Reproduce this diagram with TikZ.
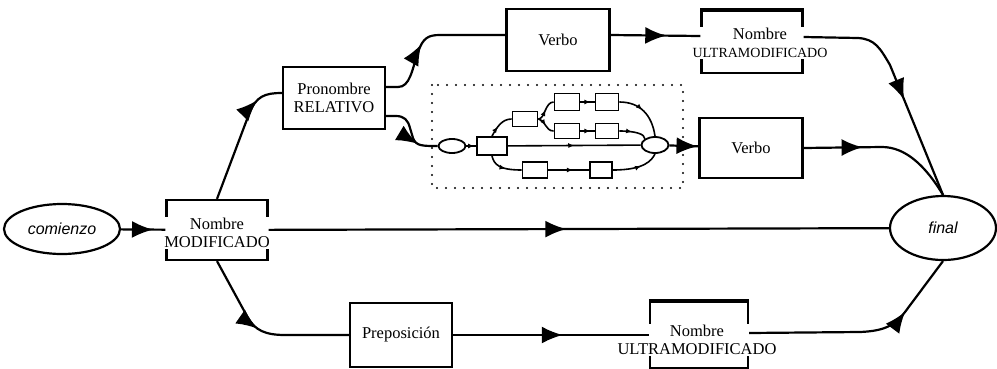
\documentclass[tikz,border=0pt]{standalone}
\usepackage{fontspec}
\setmainfont{Liberation Serif}
\setsansfont{Liberation Sans}
\usetikzlibrary{arrows.meta,decorations.markings,shapes.geometric}

\tikzset{
  caja/.style={draw, line width=2.2pt, inner sep=2pt, align=center, font=\fontsize{16.5}{18}\selectfont},
  rotulo/.style={fill=white, inner sep=1pt, align=center, font=\fontsize{16.5}{18}\selectfont},
  ovalo/.style={draw, ellipse, line width=2.2pt, inner sep=0pt, font=\sffamily\itshape\fontsize{16}{18}\selectfont},
  cajita/.style={draw, line width=1.8pt, inner sep=0pt},
  ovalito/.style={draw, ellipse, line width=1.8pt, inner sep=0pt},
  puntos/.style={line width=2.4pt, line cap=round, dash pattern=on 0pt off 9pt},
  flecha/.style={postaction={decorate}, decoration={markings,
      mark=at position #1 with {\arrow{Latex[length=21pt,width=17pt]}}}},
  flechita/.style={line width=1.6pt, postaction={decorate}, decoration={markings,
      mark=at position #1 with {\arrow{Latex[length=6pt,width=5pt]}}}}
}

\begin{document}
\begin{tikzpicture}[x=1pt,y=-1pt,line width=2.2pt]
  \useasboundingbox (0,0) rectangle (997,368);
  % nodos principales
  \node[ovalo, minimum width=116pt, minimum height=50pt] (comienzo) at (62,229) {comienzo};
  \node[caja, minimum width=101pt, minimum height=60pt] (modif) at (217,230) {};
  \node[rotulo] (modiftxt) at (217,233) {Nombre\\MODIFICADO};
  \node[caja, minimum width=102pt, minimum height=62pt] (pron) at (334,98) {Pronombre\\RELATIVO};
  \node[caja, minimum width=103pt, minimum height=62pt] (verbo1) at (558,40) {Verbo};
  \node[caja, minimum width=101pt, minimum height=62pt] (ultra1) at (752,42) {};
  \draw[line width=4pt] (ultra1.north west) -- (ultra1.north east);
  \node[rotulo] (ultra1txt) at (760,43) {Nombre\\{\fontsize{14}{18}\selectfont ULTRAMODIFICADO}};
  \node[caja, minimum width=103pt, minimum height=60pt] (verbo2) at (751,148) {Verbo};
  \node[caja, minimum width=102pt, minimum height=64pt] (prep) at (401,335) {Preposición};
  \node[caja, minimum width=98pt, minimum height=66pt] (ultra2) at (699,335) {};
  \draw[line width=4pt] (ultra2.north west) -- (ultra2.north east);
  \node[rotulo] (ultra2txt) at (697,340) {Nombre\\ULTRAMODIFICADO};
  \node[ovalo, minimum width=106pt, minimum height=64pt] (final) at (943,228) {final};

  % red interna
  \draw[puntos] (432,85) rectangle (683,188);
  \node[ovalito, minimum width=27pt, minimum height=14pt] (ini) at (452,146) {};
  \node[cajita, minimum width=30pt, minimum height=18pt] (c1) at (492,146) {};
  \node[cajita, minimum width=25pt, minimum height=15pt] (cA) at (525,119) {};
  \node[cajita, minimum width=25pt, minimum height=17pt] (cB) at (567,102) {};
  \node[cajita, minimum width=23pt, minimum height=17pt] (cC) at (607,102) {};
  \node[cajita, minimum width=25pt, minimum height=15pt] (cD) at (567,131) {};
  \node[cajita, minimum width=23pt, minimum height=15pt] (cE) at (607,131) {};
  \node[cajita, minimum width=25pt, minimum height=16pt] (cF) at (535,170) {};
  \node[cajita, minimum width=22pt, minimum height=16pt] (cG) at (601,170) {};
  \node[ovalito, minimum width=27pt, minimum height=16pt] (fin) at (655,145) {};

  \draw[flechita=0.8] (ini) -- (c1);
  \draw[flechita=0.4] (c1.north) .. controls (497,127) and (502,119) .. (cA.west);
  \draw[flechita=0.5] (cA.east) .. controls (545,119) and (545,102) .. (cB.west);
  \draw[flechita=0.5] (cA.east) .. controls (545,119) and (545,131) .. (cD.west);
  \draw[flechita=0.7] (cB) -- (cC);
  \draw[flechita=0.7] (cD) -- (cE);
  \draw[flechita=0.45] (cC.east) .. controls (640,102) and (652,115) .. (fin.north);
  \draw[flechita=0.45] (cE.east) .. controls (635,131) and (645,134) .. (fin.north west);
  \draw[flechita=0.5] (c1) -- (fin);
  \draw[flechita=0.55] (c1.south) .. controls (494,165) and (500,170) .. (cF.west);
  \draw[flechita=0.6] (cF) -- (cG);
  \draw[flechita=0.6] (cG.east) .. controls (645,170) and (652,160) .. (fin.south);

  % conexiones
  \draw[flecha=0.72] (comienzo) -- (modif);
  \draw[flecha=0.48] (modif) -- (final);
  \draw[flecha=0.8] (modif.north) -- (249,114) .. controls (256,96) and (265,93) .. (pron.west |- 0,93);
  \draw[flecha=0.42] (pron.east |- 0,87) -- (398,87) .. controls (410,87) and (412,70) .. (418,52)
    .. controls (423,38) and (428,35) .. (440,35) -- (verbo1.west |- 0,35);
  \draw[flecha=0.62] (verbo1.east |- 0,35) -- (ultra1.west |- 0,36);
  \draw[flecha=0.57] (ultra1.east |- 0,37) -- (858,38) .. controls (875,39) and (880,48) .. (890,65) -- (final.north);
  \draw[flecha=0.7] (pron.east |- 0,116) -- (396,116) .. controls (404,116) and (408,120) .. (410,128)
    -- (413,138) .. controls (416,146) and (422,146) .. (ini.west);
  \draw[flecha=0.97] (fin) -- (verbo2);
  \draw[flecha=0.37] (verbo2.east) -- (882,147) .. controls (905,147) and (925,165) .. (final.north);
  \draw[flecha=0.46] (modif.south) -- (248,318) .. controls (255,330) and (265,335) .. (285,335) -- (prep.west);
  \draw[flecha=0.56] (prep) -- (ultra2);
  \draw[flecha=0.72] (ultra2.east |- 0,333) -- (860,332) .. controls (885,331) and (895,325) .. (905,312) -- (final.south);
\end{tikzpicture}
\end{document}
